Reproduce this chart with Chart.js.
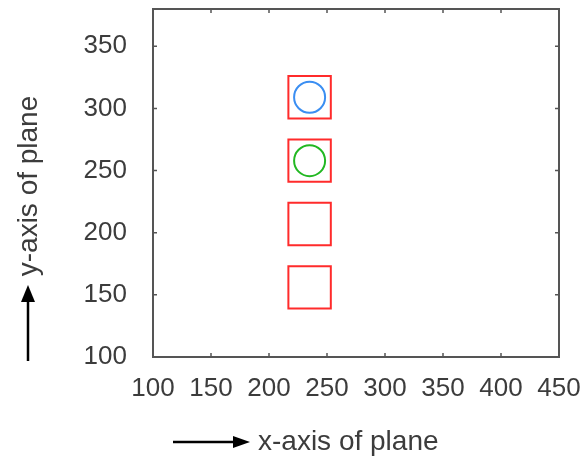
<!DOCTYPE html>
<html>
<head>
<meta charset="utf-8">
<script src="https://cdn.jsdelivr.net/npm/chart.js@4.4.1/dist/chart.umd.min.js"></script>
<style>
	html, body { margin: 0; padding: 0; background: #fff; }
</style>
</head>
<body>
<canvas id="plane" width="582" height="458"></canvas>
<script>
// axis ranges and tick labels
var xRange = [100, 450];
var yRange = [100, 380];
var xTicks = [100, 150, 200, 250, 300, 350, 400, 450];
var yTicks = [100, 150, 200, 250, 300, 350];

// the four red boxes (centres)
var boxX = [235, 235, 235, 235];
var boxY = [309, 258, 207, 156];

// circles sitting in the top two boxes
var blueX = [235];
var blueY = [309];
var greenX = [235];
var greenY = [258];

var xTitle = "x-axis of plane";
var yTitle = "y-axis of plane";

var FONT = "'Liberation Sans', Arial, sans-serif";
var TEXT = "#3c3c3c";
var FRAME = "#555555";

function points(xs, ys){
	var out = [];
	for(var i=0; i<xs.length; i++){
		out.push({x: xs[i], y: ys[i]});
	}
	return out;
}

// frame, little inward ticks, titles and the two arrows
var framePlugin = {
	id: "frame",
	afterDraw: function(chart){
		var ctx = chart.ctx;
		var a = chart.chartArea;
		var xs = chart.scales.x, ys = chart.scales.y;
		ctx.save();
		ctx.strokeStyle = FRAME;
		ctx.lineWidth = 2;
		ctx.strokeRect(a.left, a.top, a.right - a.left, a.bottom - a.top);

		// inner tick marks on all four sides
		ctx.lineWidth = 1.5;
		ctx.beginPath();
		xs.ticks.forEach(function(t){
			var px = xs.getPixelForValue(t.value);
			if(px <= a.left + 1 || px >= a.right - 1) return;
			ctx.moveTo(px, a.bottom); ctx.lineTo(px, a.bottom - 4);
			ctx.moveTo(px, a.top); ctx.lineTo(px, a.top + 4);
		});
		ys.ticks.forEach(function(t){
			var py = ys.getPixelForValue(t.value);
			if(py <= a.top + 1 || py >= a.bottom - 1) return;
			ctx.moveTo(a.left, py); ctx.lineTo(a.left + 4, py);
			ctx.moveTo(a.right, py); ctx.lineTo(a.right - 4, py);
		});
		ctx.stroke();

		// axis titles
		ctx.fillStyle = TEXT;
		ctx.font = "28px " + FONT;
		ctx.textBaseline = "alphabetic";
		ctx.textAlign = "left";
		var tx = a.left + 105, ty = 450;
		ctx.fillText(xTitle, tx, ty);

		ctx.save();
		ctx.translate(37, (a.top + a.bottom) / 2 + 3);
		ctx.rotate(-Math.PI / 2);
		ctx.textAlign = "center";
		ctx.fillText(yTitle, 0, 0);
		ctx.restore();

		// arrows next to the titles
		ctx.strokeStyle = "#000";
		ctx.fillStyle = "#000";
		ctx.lineWidth = 2.5;
		ctx.beginPath();
		ctx.moveTo(tx - 85, 442); ctx.lineTo(tx - 22, 442);
		ctx.stroke();
		ctx.beginPath();
		ctx.moveTo(tx - 8, 442); ctx.lineTo(tx - 25, 436); ctx.lineTo(tx - 25, 448);
		ctx.closePath(); ctx.fill();

		ctx.beginPath();
		ctx.moveTo(28, 361); ctx.lineTo(28, 298);
		ctx.stroke();
		ctx.beginPath();
		ctx.moveTo(28, 285); ctx.lineTo(21, 302); ctx.lineTo(35, 302);
		ctx.closePath(); ctx.fill();
		ctx.restore();
	}
};

var chart = new Chart(document.getElementById("plane"), {
	type: "scatter",
	data: {
		datasets: [
			{
				label: "blue",
				data: points(blueX, blueY),
				pointStyle: "circle",
				pointRadius: 15.5,
				pointBorderWidth: 2,
				pointBorderColor: "#3a8ef2",
				pointBackgroundColor: "transparent"
			},
			{
				label: "green",
				data: points(greenX, greenY),
				pointStyle: "circle",
				pointRadius: 15.5,
				pointBorderWidth: 2,
				pointBorderColor: "#22b822",
				pointBackgroundColor: "transparent"
			},
			{
				label: "boxes",
				data: points(boxX, boxY),
				pointStyle: "rect",
				pointRadius: 30,
				pointBorderWidth: 2,
				pointBorderColor: "#ff2b2b",
				pointBackgroundColor: "transparent"
			}
		]
	},
	options: {
		responsive: false,
		animation: false,
		events: [],
		layout: {
			autoPadding: false,
			padding: { top: 9, right: 23, left: 0, bottom: 0 }
		},
		plugins: {
			legend: { display: false },
			tooltip: { enabled: false }
		},
		scales: {
			x: {
				type: "linear",
				position: "bottom",
				min: xRange[0],
				max: xRange[1],
				grid: { display: false, drawTicks: false },
				border: { display: false },
				ticks: {
					padding: 16,
					autoSkip: false,
					maxRotation: 0,
					color: TEXT,
					font: { family: FONT, size: 26 }
				},
				afterBuildTicks: function(s){ s.ticks = xTicks.map(function(v){ return {value: v}; }); },
				afterFit: function(s){
					s.height = 101;
					s.paddingLeft = 0;
					s.paddingRight = 0;
				}
			},
			y: {
				type: "linear",
				position: "left",
				min: yRange[0],
				max: yRange[1],
				grid: { display: false, drawTicks: false },
				border: { display: false },
				ticks: {
					padding: 26,
					color: TEXT,
					font: { family: FONT, size: 26 }
				},
				afterBuildTicks: function(s){ s.ticks = yTicks.map(function(v){ return {value: v}; }); },
				afterFit: function(s){
					s.width = 153;
					s.paddingTop = 0;
					s.paddingBottom = 0;
				}
			}
		}
	},
	plugins: [framePlugin]
});
</script>
</body>
</html>
